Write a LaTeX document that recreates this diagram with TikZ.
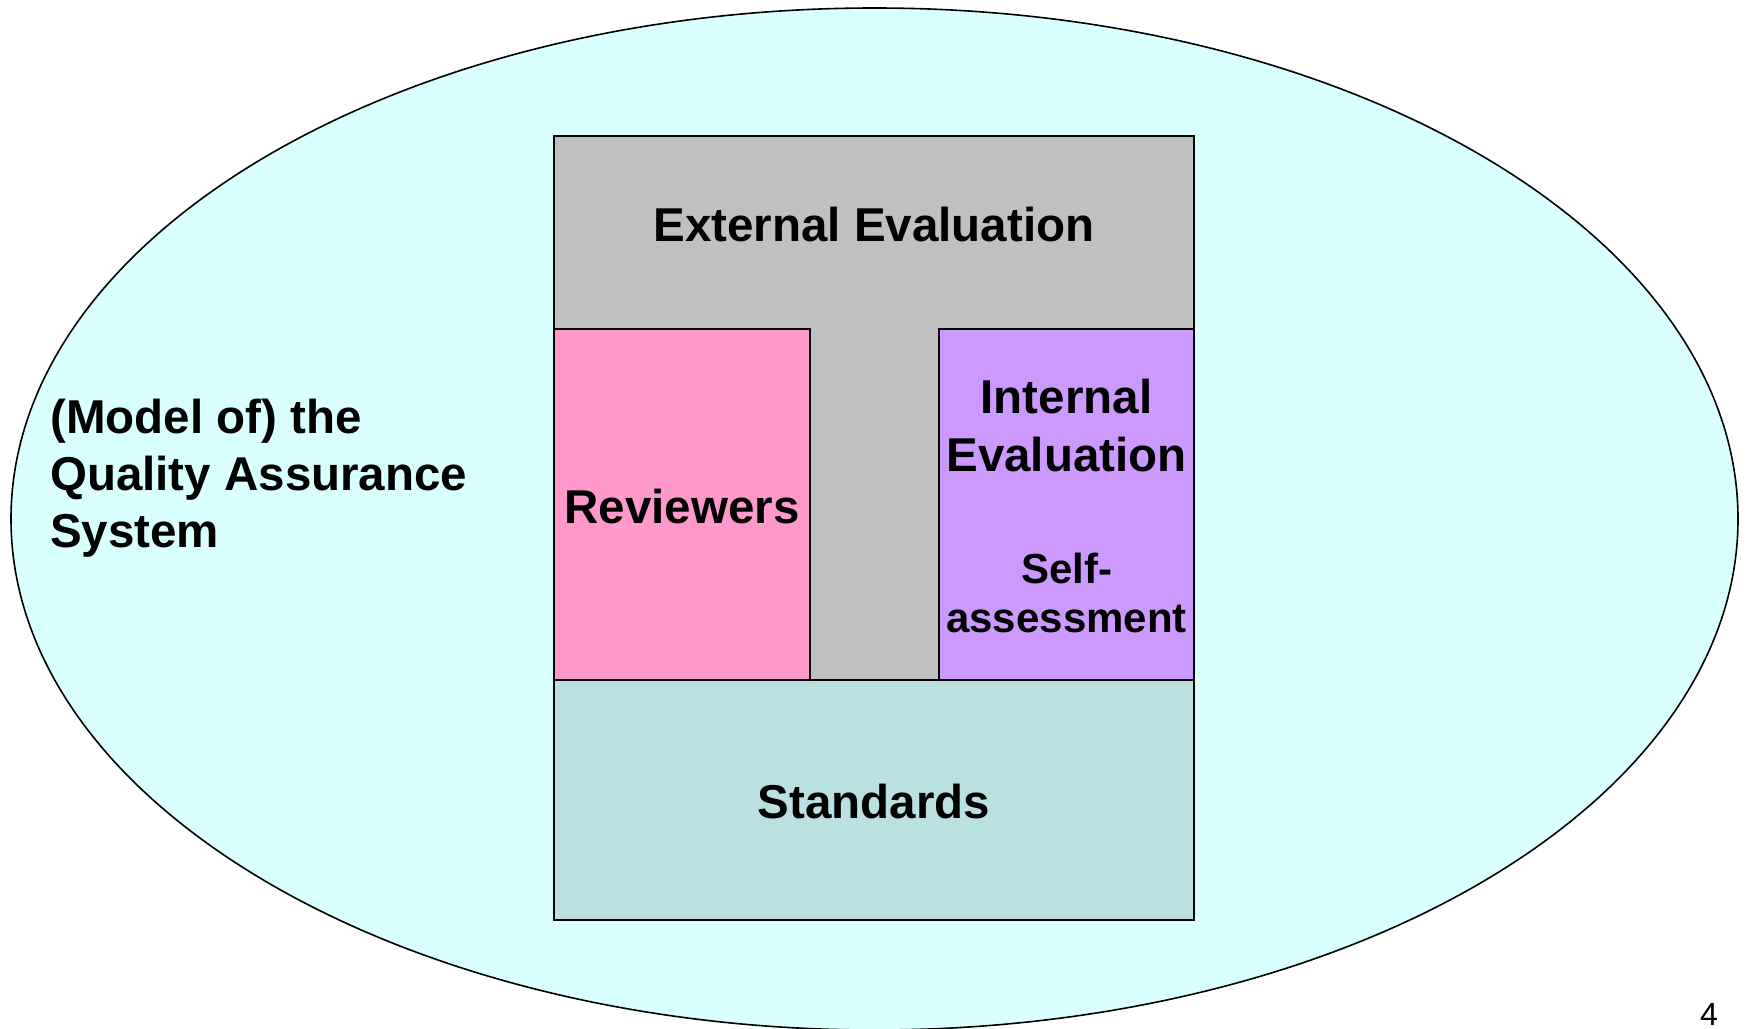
\documentclass[tikz,border=0pt]{standalone}
\usepackage{fontspec}
\setmainfont{Liberation Sans}
\usetikzlibrary{shapes.geometric}
\definecolor{bgcyan}{RGB}{217,255,255}
\definecolor{tgray}{RGB}{192,192,192}
\definecolor{tpink}{RGB}{255,153,204}
\definecolor{tpurple}{RGB}{204,153,255}
\definecolor{tstd}{RGB}{186,224,226}
\tikzset{
  box/.style={draw=black, line width=1.6pt, inner sep=0pt, outer sep=0pt},
  big/.style={font=\bfseries\fontsize{47.5}{57}\selectfont, inner sep=0pt, anchor=base},
  mid/.style={font=\bfseries\fontsize{42}{50}\selectfont, inner sep=0pt, anchor=base},
}
\begin{document}
\begin{tikzpicture}[x=1pt,y=-1pt]
\useasboundingbox (0,0) rectangle (1748,1028);
\fill[white] (0,0) rectangle (1748,1028);
\node[draw=black, line width=1.6pt, fill=bgcyan, ellipse, minimum width=1727pt, minimum height=1022pt, inner sep=0pt] (world) at (874.5,519) {};
% T-shaped external evaluation
\node[box, fill=tgray, minimum width=640pt, minimum height=544pt] (ext) at (874,408) {};
\node[box, fill=tpink, minimum width=256pt, minimum height=351pt] (rev) at (682,504.5) {};
\node[box, fill=tpurple, minimum width=255pt, minimum height=351pt] (int) at (1066.5,504.5) {};
\node[box, fill=tstd, minimum width=640pt, minimum height=240pt] (std) at (874,800) {};
% texts
\node[big] (extT) at (874,241) {External Evaluation};
\node[big] (revT) at (682,523) {Reviewers};
\node[big] (intT1) at (1066.5,413) {Internal};
\node[big] (intT2) at (1066.5,471) {Evaluation};
\node[mid] (selfT1) at (1066.5,583) {Self-};
\node[mid] (selfT2) at (1066.5,632) {assessment};
\node[big] (stdT) at (874,818) {Standards};
\node[big, anchor=base west] (qa1) at (50,433) {(Model of) the};
\node[big, anchor=base west] (qa2) at (50,490) {Quality Assurance};
\node[big, anchor=base west] (qa3) at (50,547) {System};
\node[font=\fontsize{32}{38}\selectfont, inner sep=0pt, anchor=base] (pg) at (1709,1025) {4};
\end{tikzpicture}
\end{document}
